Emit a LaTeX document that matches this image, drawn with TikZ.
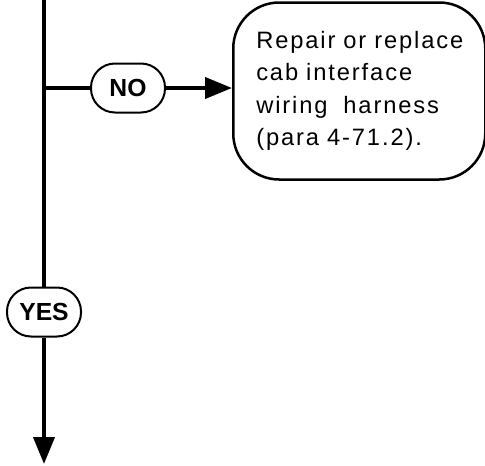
\documentclass[tikz,border=0pt]{standalone}
\usepackage{fontspec}
\setmainfont{Liberation Sans}
\usetikzlibrary{arrows.meta}
\begin{document}
\begin{tikzpicture}[x=1pt,y=-1pt,
  flow/.style={line width=4pt},
  tip/.style={-{Triangle[length=27pt,width=21pt]}},
  pill/.style={draw,line width=2pt,rounded corners=24pt,minimum width=74pt,minimum height=49pt,inner sep=0pt,font=\fontsize{24.7}{24.7}\selectfont\bfseries},
  actbox/.style={draw,line width=2.5pt,rounded corners=46pt,minimum height=177pt,text width=252pt,align=left,inner xsep=0pt,font=\fontsize{23.7}{32.5}\selectfont\addfontfeatures{LetterSpace=8}}]
\useasboundingbox (0,0) rectangle (485,466);
\coordinate (top) at (44,0);
\coordinate (j) at (44,88);
\coordinate (end) at (44,464);
\node[pill] (no) at (128,88) {NO};
\node[pill] (yes) at (44,312) {YES};
\node[actbox,anchor=west] (box) at (232,91) {\hspace*{23pt}Repair or replace\\\hspace*{23pt}cab interface\\\hspace*{23pt}wiring\ \ harness\\\hspace*{23pt}(para 4-71.2).};
\draw[flow] (top) -- (yes.north);
\draw[flow,tip] (yes.south) -- (end);
\draw[flow] (j) -- (no.west);
\draw[flow,tip] (no.east) -- (no.east -| box.west);
\end{tikzpicture}
\end{document}
